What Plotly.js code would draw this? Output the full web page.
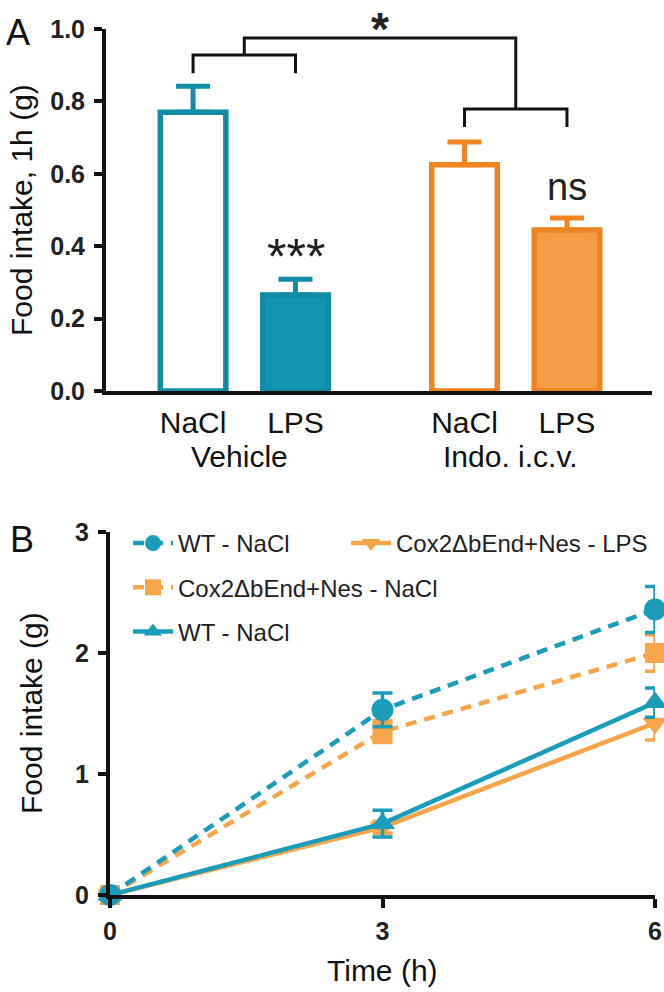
<!DOCTYPE html>
<html>
<head>
<meta charset="utf-8">
<script src="https://cdn.plot.ly/plotly-3.0.1.min.js"></script>
<style>html,body{margin:0;padding:0;background:#fff;}#chart{width:664px;height:992px;}</style>
</head>
<body>
<div id="chart"></div>
<script>
// ---------- Panel A data ----------
const groupsA = ["Vehicle", "Vehicle", "Indo. i.c.v.", "Indo. i.c.v."];
const treatmentsA = ["NaCl", "LPS", "NaCl", "LPS"];
const intakeA = [0.77, 0.265, 0.625, 0.445];
const semA = [0.072, 0.044, 0.063, 0.033];
const sigLPS = ["***", "ns"]; // marks above the LPS bar of each group
const groupNamesA = ["Vehicle", "Indo. i.c.v."];

// ---------- Panel B data ----------
const timeB = [0, 3, 6];
const seriesNamesB = ["WT - NaCl", "Cox2ΔbEnd+Nes - NaCl", "WT - NaCl", "Cox2ΔbEnd+Nes - LPS"];
const wtNaCl = [0, 1.53, 2.36];
const wtNaClSem = [0, 0.14, 0.19];
const coxNaCl = [0, 1.35, 2.0];
const coxNaClSem = [0, 0.09, 0.15];
const wtTri = [0, 0.59, 1.59];
const wtTriSem = [0, 0.11, 0.12];
const coxLPS = [0, 0.56, 1.42];
const coxLPSSem = [0, 0.05, 0.14];
const tickB = [0, 3, 6];

// ---------- styling ----------
const W = 664, H = 992;
const FONT = "Liberation Sans, Arial, Helvetica, sans-serif";
const TEAL_A = "#128ca5", TEAL_A_FILL = "#1396af";
const ORANGE_A = "#ef8522", ORANGE_A_FILL = "#f39c45";
const TEAL_B = "#1b9cb8", ORANGE_B = "#f7a54b";
const groupColors = {"Vehicle": [TEAL_A, TEAL_A_FILL], "Indo. i.c.v.": [ORANGE_A, ORANGE_A_FILL]};
const GROUP_SPACING = 2.65;
const px = v => v / W;
const py = v => 1 - v / H;

// bar positions from group / treatment order
const posA = groupsA.map((g, i) => groupNamesA.indexOf(g) * GROUP_SPACING + (treatmentsA[i] === "NaCl" ? 0 : 1));

const traces = [];
groupNamesA.forEach(g => {
  const idx = groupsA.map((gg, i) => gg === g ? i : -1).filter(i => i >= 0);
  const [stroke, fill] = groupColors[g];
  traces.push({
    type: "bar", xaxis: "x", yaxis: "y",
    x: idx.map(i => posA[i]), y: idx.map(i => intakeA[i]),
    width: 0.64, showlegend: false, hoverinfo: "skip",
    marker: {color: idx.map(i => treatmentsA[i] === "NaCl" ? "#ffffff" : fill),
             line: {color: stroke, width: 5.5}},
    error_y: {type: "data", symmetric: false, array: idx.map(i => semA[i]),
              arrayminus: idx.map(() => 0), color: stroke, thickness: 5, width: 17}
  });
});

function lineTrace(name, y, sem, color, symbol, size, dash, rank, legend) {
  return {
    type: "scatter", mode: "lines+markers", xaxis: "x2", yaxis: "y2",
    x: timeB, y: y, name: name, legend: legend, legendrank: rank, legendgroup: name + rank + legend,
    cliponaxis: false,
    line: {color: color, width: 4.5, dash: dash},
    marker: {color: color, symbol: symbol, size: size, line: {width: 0}},
    error_y: {type: "data", array: sem, color: color, thickness: 3.5, width: 10}
  };
}
const DASH = "11px,8px";
traces.push(lineTrace(seriesNamesB[3], coxLPS, coxLPSSem, ORANGE_B, "triangle-down", 22, "solid", 1, "legend2"));
traces.push(lineTrace(seriesNamesB[1], coxNaCl, coxNaClSem, ORANGE_B, "square", 20, DASH, 2, "legend"));
traces.push(lineTrace(seriesNamesB[2], wtTri, wtTriSem, TEAL_B, "triangle-up", 22, "solid", 3, "legend"));
traces.push(lineTrace(seriesNamesB[0], wtNaCl, wtNaClSem, TEAL_B, "circle", 22, DASH, 1, "legend"));

// brackets
const gEnds = groupNamesA.map(g => {
  const p = posA.filter((_, i) => groupsA[i] === g);
  return [Math.min(...p), Math.max(...p)];
});
const midG = gEnds.map(([a, b]) => (a + b) / 2);
const bracketY = [0.928, 0.779], bracketDrop = 0.05, topY = 0.975;
const lineStyle = {color: "#111", width: 3};
const shapes = [];
gEnds.forEach(([a, b], k) => {
  shapes.push({type: "path", xref: "x", yref: "y", line: lineStyle,
    path: `M ${a},${bracketY[k] - bracketDrop} L ${a},${bracketY[k]} L ${b},${bracketY[k]} L ${b},${bracketY[k] - bracketDrop}`});
});
shapes.push({type: "path", xref: "x", yref: "y", line: lineStyle,
  path: `M ${midG[0]},${bracketY[0]} L ${midG[0]},${topY} L ${midG[1]},${topY} L ${midG[1]},${bracketY[1]}`});

const annotations = [];
const txt = (text, x, y, size, opts = {}) => Object.assign({
  text: text, x: x, y: y, xref: "paper", yref: "paper", showarrow: false,
  xanchor: "center", yanchor: "middle", font: {family: FONT, size: size, color: "#111"}
}, opts);
annotations.push(txt("A", px(18), py(33), 36));
annotations.push(txt("B", px(22), py(539), 36));
annotations.push(txt("Food intake, 1h (g)", px(22), py(210), 30, {textangle: -90}));
annotations.push(txt("Food intake (g)", px(31), py(713), 30, {textangle: -90}));
annotations.push(txt("Time (h)", px(382), py(970), 30));
groupNamesA.forEach((g, k) => {
  annotations.push(Object.assign(txt(g, midG[k], py(456), 30), {xref: "x", xshift: -5}));
});
// significance marks
annotations.push(Object.assign(txt("*", (midG[0] + midG[1]) / 2, 1, 46,
  {font: {family: FONT, size: 46, color: "#222", weight: "bold"}}), {xref: "x", yanchor: "top", yshift: -1}));
groupNamesA.forEach((g, k) => {
  const i = groupsA.findIndex((gg, j) => gg === g && treatmentsA[j] === "LPS");
  const mark = sigLPS[k];
  const isStar = mark.indexOf("*") >= 0;
  annotations.push(Object.assign(txt(mark, posA[i], intakeA[i] + semA[i] + (isStar ? 0.06 : 0.085), isStar ? 50 : 38,
    {font: {family: FONT, size: isStar ? 50 : 38, color: "#222"}}), {xref: "x", yref: "y"}));
});

const axisCommon = {showgrid: false, zeroline: false, showline: true, linewidth: 4, linecolor: "#111", fixedrange: true};
const layout = {
  width: W, height: H, margin: {l: 0, r: 0, t: 0, b: 0},
  paper_bgcolor: "#fff", plot_bgcolor: "rgba(0,0,0,0)",
  font: {family: FONT, color: "#111"},
  barmode: "overlay", showlegend: true,
  xaxis: Object.assign({}, axisCommon, {
    domain: [px(106), px(652)], range: [-0.85, 4.48], anchor: "y",
    tickmode: "array", tickvals: posA, ticktext: treatmentsA, ticks: "",
    tickfont: {family: FONT, size: 30, color: "#111"}, ticklabelstandoff: 2
  }),
  yaxis: Object.assign({}, axisCommon, {
    domain: [py(391), py(29)], range: [0, 1], anchor: "x",
    tickmode: "linear", tick0: 0, dtick: 0.2, tickformat: ".1f",
    ticks: "outside", ticklen: 8, tickwidth: 4, tickcolor: "#111",
    tickfont: {family: FONT, size: 25, color: "#222", weight: "bold"}, ticklabelstandoff: 4
  }),
  xaxis2: Object.assign({}, axisCommon, {
    domain: [px(110), px(655)], range: [0, 6], anchor: "y2",
    tickmode: "array", tickvals: tickB, ticks: "outside", ticklen: 9, tickwidth: 4, tickcolor: "#111",
    tickfont: {family: FONT, size: 25, color: "#222", weight: "bold"}, ticklabelstandoff: 2
  }),
  yaxis2: Object.assign({}, axisCommon, {
    domain: [py(895), py(532)], range: [0, 3], anchor: "x2",
    tickmode: "linear", tick0: 0, dtick: 1,
    ticks: "outside", ticklen: 8, tickwidth: 4, tickcolor: "#111",
    tickfont: {family: FONT, size: 25, color: "#222", weight: "bold"}, ticklabelstandoff: 4
  }),
  legend: {x: px(128), y: py(521), xanchor: "left", yanchor: "top", bgcolor: "rgba(0,0,0,0)",
    font: {family: FONT, size: 24, color: "#222"}, traceorder: "grouped", tracegroupgap: 10, itemwidth: 40},
  legend2: {x: px(346), y: py(521), xanchor: "left", yanchor: "top", bgcolor: "rgba(0,0,0,0)",
    font: {family: FONT, size: 24, color: "#222"}, itemwidth: 40},
  shapes: shapes, annotations: annotations
};
Plotly.newPlot("chart", traces, layout, {staticPlot: true, displayModeBar: false});
</script>
</body>
</html>
